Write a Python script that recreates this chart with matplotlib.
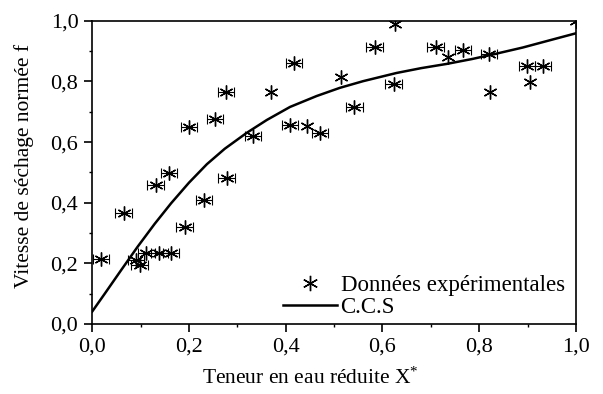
import matplotlib
matplotlib.use("Agg")
import matplotlib.pyplot as plt
from matplotlib.ticker import MultipleLocator, FuncFormatter

plt.rcParams['font.family'] = ['Liberation Serif', 'DejaVu Serif']
plt.rcParams['mathtext.fontset'] = 'custom'
plt.rcParams['mathtext.rm'] = 'Liberation Serif'
plt.rcParams['mathtext.it'] = 'Liberation Serif:italic'

# experimental points with horizontal error bars
x_err_pts = [0.018, 0.065, 0.131, 0.159, 0.200, 0.254, 0.276, 0.278, 0.231, 0.191,
             0.112, 0.139, 0.163, 0.090, 0.098, 0.332, 0.417, 0.409, 0.471, 0.584,
             0.623, 0.542, 0.710, 0.767, 0.820, 0.899, 0.932]
f_err_pts = [0.215, 0.365, 0.457, 0.497, 0.651, 0.677, 0.765, 0.482, 0.409, 0.321,
             0.235, 0.235, 0.235, 0.211, 0.195, 0.619, 0.862, 0.655, 0.631, 0.913,
             0.791, 0.717, 0.914, 0.904, 0.890, 0.852, 0.850]
x_err = 0.017

# experimental points without error bars
x_pts = [0.369, 0.445, 0.514, 0.627, 0.735, 0.822, 0.905, 1.0]
f_pts = [0.765, 0.652, 0.814, 0.991, 0.880, 0.764, 0.799, 1.0]

# characteristic drying curve (C.C.S)
x_ccs = [0.0, 0.026, 0.060, 0.094, 0.129, 0.163, 0.200, 0.237, 0.274, 0.319, 0.361,
         0.409, 0.464, 0.512, 0.560, 0.629, 0.680, 0.733, 0.785, 0.836, 0.890, 0.939, 1.0]
f_ccs = [0.041, 0.100, 0.178, 0.255, 0.330, 0.398, 0.466, 0.527, 0.578, 0.630, 0.673,
         0.716, 0.752, 0.779, 0.801, 0.828, 0.844, 0.858, 0.874, 0.892, 0.912, 0.933, 0.959]

fig = plt.figure(figsize=(6.03, 3.94), dpi=100)
ax = fig.add_axes([0.153, 0.178, 0.802, 0.769])

star = (6, 2, 0)
ax.errorbar(x_err_pts, f_err_pts, xerr=x_err, fmt='none', ecolor='black',
            elinewidth=0.8, capsize=3.5, capthick=0.8)
ax.plot(x_err_pts + x_pts, f_err_pts + f_pts, linestyle='none', marker=star,
        markersize=10, markeredgewidth=1.0, color='black',
        label='Données expérimentales')
ax.plot(x_ccs, f_ccs, color='black', linewidth=1.8, label='C.C.S',
        solid_joinstyle='round')

ax.set_xlim(0, 1)
ax.set_ylim(0, 1)
ax.xaxis.set_major_locator(MultipleLocator(0.2))
ax.xaxis.set_minor_locator(MultipleLocator(0.1))
ax.yaxis.set_major_locator(MultipleLocator(0.2))
ax.yaxis.set_minor_locator(MultipleLocator(0.1))
fmt = FuncFormatter(lambda v, p: f"{v:.1f}".replace('.', ','))
ax.xaxis.set_major_formatter(fmt)
ax.yaxis.set_major_formatter(fmt)
ax.tick_params(which='major', direction='out', length=6, width=1.2, labelsize=16,
               top=False, right=False, pad=4)
ax.tick_params(which='minor', direction='out', length=2.5, width=1.0,
               top=False, right=False)
for s in ax.spines.values():
    s.set_linewidth(1.2)

ax.set_xlabel('Teneur en eau réduite X$^{*}$', fontsize=15.5)
ax.set_ylabel('Vitesse de séchage normée f', fontsize=15.5)
ax.xaxis.set_label_coords(0.45, -0.145)
ax.yaxis.set_label_coords(-0.12, 0.52)

ax.legend(loc='lower right', bbox_to_anchor=(0.977, 0.02), frameon=False, fontsize=16.5,
          handlelength=2.36, handletextpad=0.15, labelspacing=0.05,
          borderaxespad=0.0, borderpad=0.0, markerscale=1.1)

fig.savefig('out.png', dpi=100)
